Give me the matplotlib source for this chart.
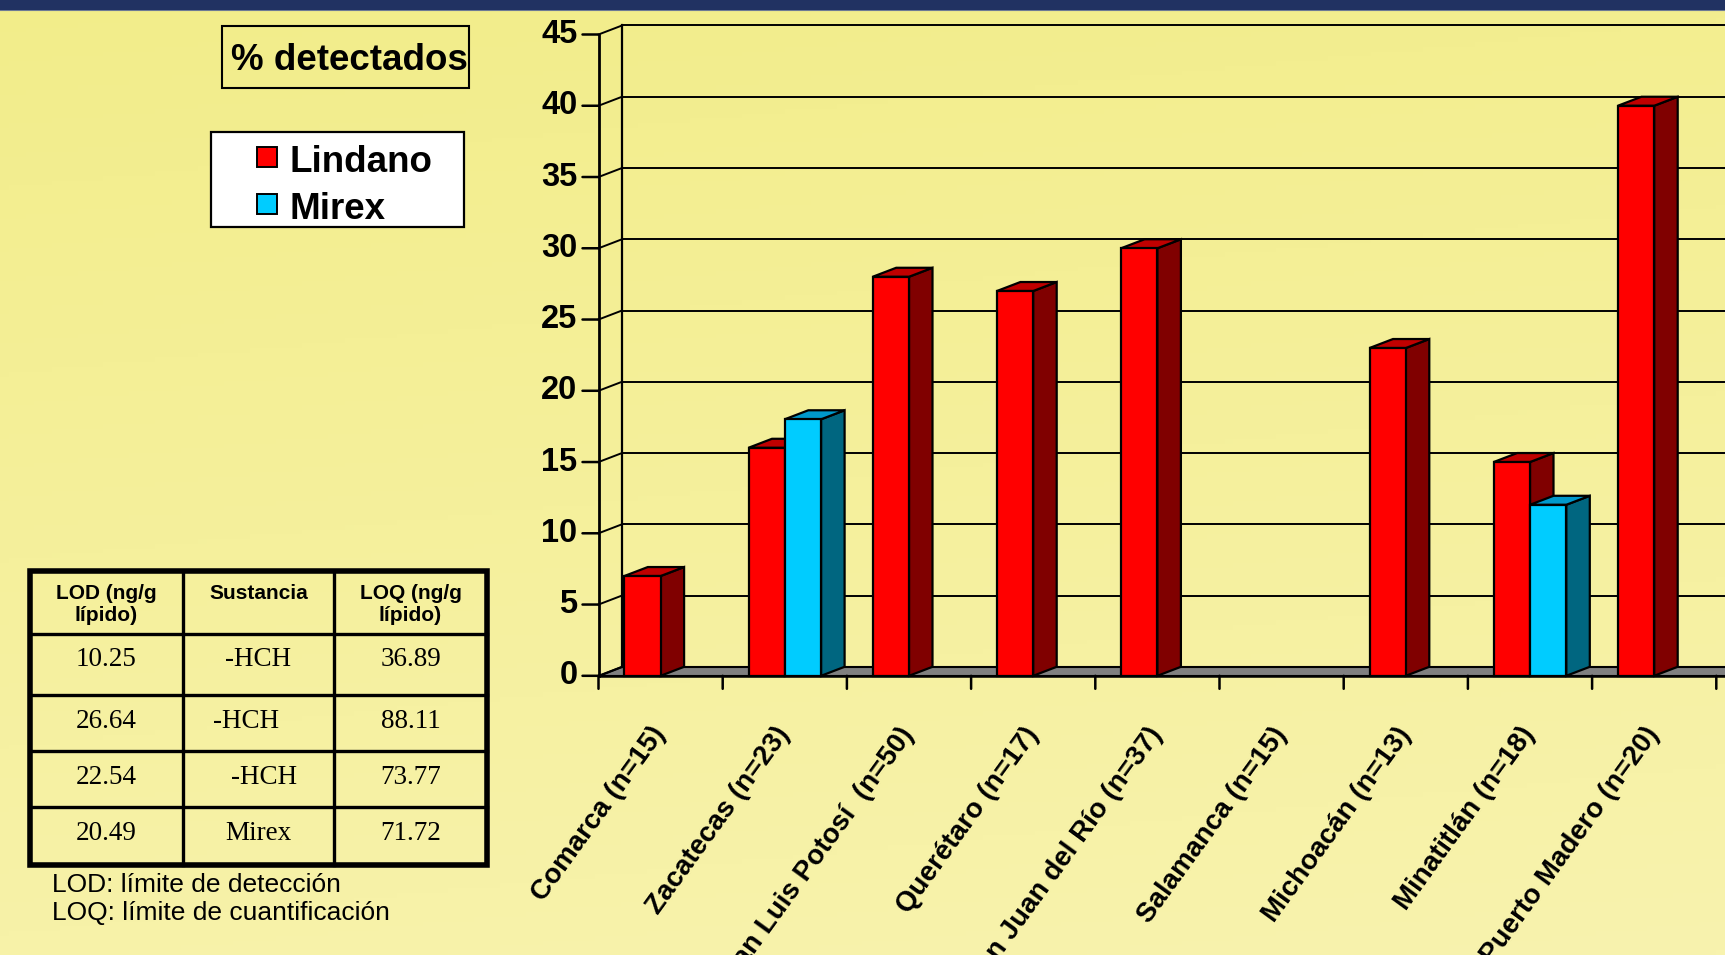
import numpy as np
import matplotlib
matplotlib.use("Agg")
import matplotlib.pyplot as plt
import matplotlib.transforms as mtransforms
from matplotlib.patches import Polygon, Rectangle
from matplotlib.lines import Line2D

plt.rcParams['font.family'] = ['Liberation Sans', 'DejaVu Sans']

# ---------------- data ----------------
categories = ["Comarca (n=15)", "Zacatecas (n=23)", "San Luis Potosí  (n=50)",
              "Querétaro (n=17)", "San Juan del Río (n=37)", "Salamanca (n=15)",
              "Michoacán (n=13)", "Minatitlán (n=18)", "Puerto Madero (n=20)"]
lindano = [7, 16, 28, 27, 30, 0, 23, 15, 40]
mirex = [0, 18, 0, 0, 0, 0, 0, 12, 0]
series_names = ["Lindano", "Mirex"]
y_ticks = [0, 5, 10, 15, 20, 25, 30, 35, 40, 45]

table_header = ["LOD (ng/g\nlípido)", "Sustancia", "LOQ (ng/g\nlípido)"]
lod_values = ["10.25", "26.64", "22.54", "20.49"]
sustancias = ["-HCH", "-HCH", "-HCH", "Mirex"]
loq_values = ["36.89", "88.11", "73.77", "71.72"]
footnotes = ["LOD: límite de detección", "LOQ: límite de cuantificación"]
title = "% detectados"

# ---------------- layout (pixels) ----------------
W, H = 1725, 955
DPI = 100
x0_px, y0_px, ytop_px = 598.5, 675.8, 34.5
cat_px = 124.2
depth_x_px, depth_y_px = 23.5, 9
bar_px = 36.3

fig = plt.figure(figsize=(W / DPI, H / DPI), dpi=DPI)


def fxy(x, y):
    return x / W, 1 - y / H


# background gradient
bg = fig.add_axes([0, 0, 1, 1], zorder=-10)
gy, gx = np.mgrid[0:1:200j, 0:1:200j]
t = np.clip(0.85 * gy + 0.15 * gx, 0, 1)
top_c = np.array([242, 237, 138]) / 255
bot_c = np.array([248, 243, 174]) / 255
img = top_c[None, None, :] * (1 - t[..., None]) + bot_c[None, None, :] * t[..., None]
bg.imshow(img, aspect='auto', extent=[0, 1, 0, 1], origin='upper')
bg.axis('off')

# navy header strip
fig.patches.append(Rectangle(fxy(0, 10), 1, 10 / H, transform=fig.transFigure,
                             facecolor='#213262', edgecolor='none', zorder=5))
fig.add_artist(Line2D([0, 1], [1 - 10.5 / H] * 2, transform=fig.transFigure,
                      color='#6d7a95', lw=0.8, zorder=5))

# ---------------- chart axes ----------------
ax = fig.add_axes([x0_px / W, (H - y0_px) / H, (W - x0_px) / W, (y0_px - ytop_px) / H])
xmax = (W - x0_px) / cat_px
ax.set_xlim(0, xmax)
ax.set_ylim(0, 45)
ax.axis('off')

ddx = depth_x_px / cat_px
ddy = depth_y_px * 45 / (y0_px - ytop_px)
bw = bar_px / cat_px
ymax = y_ticks[-1]

# floor
floor = Polygon([(0, 0), (xmax + 1, 0), (xmax + 1, ddy), (ddx, ddy)], closed=True,
                facecolor='#808080', edgecolor='black', lw=1.5, zorder=1, clip_on=False)
ax.add_patch(floor)

# back wall grid and side connectors
for v in y_ticks:
    ax.plot([0, ddx], [v, v + ddy], color='black', lw=1.4, zorder=1, clip_on=False)
    if v > 0:
        ax.plot([ddx, xmax + 1], [v + ddy, v + ddy], color='black', lw=1.4, zorder=1,
                clip_on=False)
ax.plot([ddx, ddx], [ddy, ymax + ddy], color='black', lw=1.6, zorder=1, clip_on=False)

# front value axis with ticks and labels
ax.plot([0, 0], [0, ymax], color='black', lw=2, zorder=2, clip_on=False)
lab_tr = mtransforms.offset_copy(ax.transData, fig=fig, x=-21, y=0, units='dots')
for v in y_ticks:
    ax.annotate('', xy=(0, v), xycoords='data', xytext=(-16, 0),
                textcoords='offset pixels',
                arrowprops=dict(arrowstyle='-', color='black', lw=1.8,
                                shrinkA=0, shrinkB=0))
    ax.text(0, v, str(v), transform=lab_tr, ha='right', va='center',
            fontsize=23.5, fontweight='bold', color='black', clip_on=False)

# category ticks below the floor
ax.plot([0, xmax + 1], [0, 0], color='black', lw=1.8, zorder=2, clip_on=False)
for k in range(len(categories) + 1):
    ax.annotate('', xy=(k, 0), xycoords='data', xytext=(0, -13),
                textcoords='offset pixels',
                arrowprops=dict(arrowstyle='-', color='black', lw=1.8,
                                shrinkA=0, shrinkB=0))

# category labels
xlab_tr = mtransforms.offset_copy(ax.transData, fig=fig, x=0, y=-54, units='dots')
for k, name in enumerate(categories):
    ax.text(k + 0.5, 0, name, transform=xlab_tr, rotation=54, rotation_mode='anchor',
            ha='right', va='center', fontsize=20, fontweight='bold', color='black',
            clip_on=False)

# 3-D bars
styles = {
    "Lindano": dict(front='#ff0000', side='#800000', top='#c00000'),
    "Mirex": dict(front='#00ccff', side='#006680', top='#0099cc'),
}


def draw_bar(xl, h, st, z):
    xr = xl + bw
    kw = dict(edgecolor='black', lw=1.6, joinstyle='miter', clip_on=False, zorder=z)
    ax.add_patch(Polygon([(xr, 0), (xr + ddx, ddy), (xr + ddx, h + ddy), (xr, h)],
                         closed=True, facecolor=st['side'], **kw))
    ax.add_patch(Polygon([(xl, h), (xr, h), (xr + ddx, h + ddy), (xl + ddx, h + ddy)],
                         closed=True, facecolor=st['top'], **kw))
    ax.add_patch(Rectangle((xl, 0), bw, h, facecolor=st['front'], **kw))


z = 3
for k in range(len(categories)):
    c = k + 0.5
    for xl, val, name in [(c - bw, lindano[k], "Lindano"), (c, mirex[k], "Mirex")]:
        if val > 0:
            draw_bar(xl, val, styles[name], z)
            z += 1

# ---------------- title box ----------------
tx0, ty0 = fxy(222, 88)
fig.patches.append(Rectangle((tx0, ty0), 247 / W, 62 / H, transform=fig.transFigure,
                             facecolor='none', edgecolor='black', lw=1.5))
fig.text(*fxy(231, 60), title, ha='left', va='center', fontsize=26.5, fontweight='bold')

# ---------------- legend ----------------
lx0, ly0 = fxy(211, 227)
fig.patches.append(Rectangle((lx0, ly0), 253 / W, 95 / H, transform=fig.transFigure,
                             facecolor='white', edgecolor='black', lw=1.6))
for name, yc in zip(series_names, [157, 204]):
    sx, sy = fxy(257, yc + 10)
    fig.patches.append(Rectangle((sx, sy), 20 / W, 20 / H, transform=fig.transFigure,
                                 facecolor=styles[name]['front'], edgecolor='black',
                                 lw=1.4))
    fig.text(*fxy(289, yc + 5), name, ha='left', va='center', fontsize=26.5,
             fontweight='bold')

# ---------------- table ----------------
col_x = [30, 183, 334, 487]
row_y = [571, 634, 695, 751, 807, 865]
for x in col_x[1:-1]:
    fig.add_artist(Line2D([x / W] * 2, [1 - row_y[0] / H, 1 - row_y[-1] / H],
                          transform=fig.transFigure, color='black', lw=2.4))
for y in row_y[1:-1]:
    fig.add_artist(Line2D([col_x[0] / W, col_x[-1] / W], [1 - y / H] * 2,
                          transform=fig.transFigure, color='black', lw=2.4))
bx, by = fxy(col_x[0], row_y[-1])
fig.patches.append(Rectangle((bx, by), (col_x[-1] - col_x[0]) / W,
                             (row_y[-1] - row_y[0]) / H, transform=fig.transFigure,
                             facecolor='none', edgecolor='black', lw=4))

col_c = [(col_x[i] + col_x[i + 1]) / 2 for i in range(3)]
for i, head in enumerate(table_header):
    fig.text(*fxy(col_c[i], 584), head, ha='center', va='top', fontsize=15,
             fontweight='bold', linespacing=1.2)

sust_dx = [0, -12, 6, 0]
serif = ['Liberation Serif', 'DejaVu Serif']
for r in range(len(lod_values)):
    yc = row_y[r + 1] + 26
    fig.text(*fxy(col_c[0], yc), lod_values[r], ha='center', va='center',
             fontsize=19.5, family=serif)
    fig.text(*fxy(col_c[1] + sust_dx[r], yc), sustancias[r], ha='center',
             va='center', fontsize=19.5, family=serif)
    fig.text(*fxy(col_c[2], yc), loq_values[r], ha='center', va='center',
             fontsize=19.5, family=serif)

for i, note in enumerate(footnotes):
    fig.text(*fxy(52, 885 + 28 * i), note, ha='left', va='center', fontsize=19)

fig.savefig('out.png', dpi=DPI)
